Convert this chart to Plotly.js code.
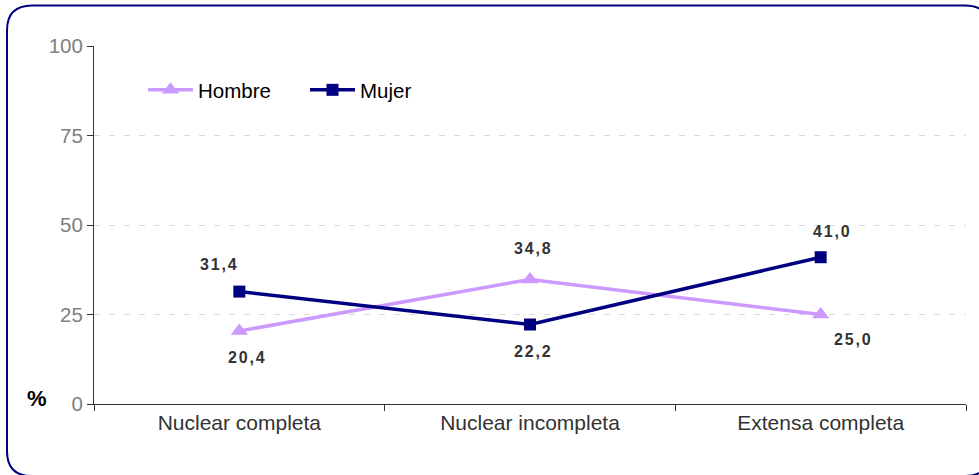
<!DOCTYPE html>
<html>
<head>
<meta charset="utf-8">
<script src="https://cdn.plot.ly/plotly-3.0.1.min.js"></script>
<style>
html, body { margin: 0; padding: 0; background: #fff; }
#chart { width: 979px; height: 475px; }
.annotation-text { letter-spacing: 1.8px; }
</style>
</head>
<body>
<div id="chart"></div>
<script>
var categories = ["Nuclear completa", "Nuclear incompleta", "Extensa completa"];
var hombre = [20.4, 34.8, 25.0];
var mujer = [31.4, 22.2, 41.0];
var yTicks = [0, 25, 50, 75, 100];

var W = 979, H = 475, L = 94, R = 13, T = 46, B = 71;
var pw = W - L - R, ph = H - T - B;
function px(x) { return (x - L) / pw; }
function py(y) { return (H - B - y) / ph; }

function fmt(v) { return v.toFixed(1).replace('.', ','); }

var traces = [
  {
    x: categories, y: hombre, name: "Hombre", type: "scatter", mode: "lines+markers",
    line: { color: "#CC99FF", width: 3.5 },
    marker: { symbol: "triangle-up", size: 15, color: "#CC99FF" }
  },
  {
    x: categories, y: mujer, name: "Mujer", type: "scatter", mode: "lines+markers",
    line: { color: "#000080", width: 3.5 },
    marker: { symbol: "square", size: 12, color: "#000080" }
  }
];

// label offsets (pixels) for each point
var hOff = [[8, 27], [3, -31], [32, 25]];
var mOff = [[-20, -27], [3, 27], [11, -26]];

var annotations = [];
function addLabels(vals, offs) {
  vals.forEach(function (v, i) {
    annotations.push({
      x: categories[i], y: v, xref: "x", yref: "y",
      text: fmt(v), showarrow: true, arrowcolor: "rgba(0,0,0,0)",
      ax: offs[i][0], ay: offs[i][1],
      font: { family: "Arial, Liberation Sans, sans-serif", size: 16, color: "#333333", weight: "bold" }
    });
  });
}
addLabels(hombre, hOff);
addLabels(mujer, mOff);

annotations.push({
  xref: "paper", yref: "paper", x: px(37), y: py(398), showarrow: false,
  text: "<b>%</b>", font: { family: "Arial, Liberation Sans, sans-serif", size: 22, color: "#000" },
  xanchor: "center", yanchor: "middle"
});

// rounded border
var bl = 7, bt = 5.5, br = 990, bb = 476, rr = 25;
var path = "M " + px(bl + rr) + " " + py(bt) +
  " L " + px(br - rr) + " " + py(bt) +
  " Q " + px(br) + " " + py(bt) + " " + px(br) + " " + py(bt + rr) +
  " L " + px(br) + " " + py(bb - rr) +
  " Q " + px(br) + " " + py(bb) + " " + px(br - rr) + " " + py(bb) +
  " L " + px(bl + rr) + " " + py(bb) +
  " Q " + px(bl) + " " + py(bb) + " " + px(bl) + " " + py(bb - rr) +
  " L " + px(bl) + " " + py(bt + rr) +
  " Q " + px(bl) + " " + py(bt) + " " + px(bl + rr) + " " + py(bt) + " Z";

var layout = {
  width: W, height: H,
  margin: { l: L, r: R, t: T, b: B, pad: 0 },
  paper_bgcolor: "#fff", plot_bgcolor: "#fff",
  font: { family: "Arial, Liberation Sans, sans-serif" },
  showlegend: true,
  legend: {
    orientation: "h", x: px(143), y: py(90), xanchor: "left", yanchor: "middle",
    font: { size: 20.5, color: "#000" }, bgcolor: "rgba(0,0,0,0)", itemwidth: 45,
    entrywidth: 102, entrywidthmode: "pixels", tracegroupgap: 0
  },
  xaxis: {
    type: "category", range: [-0.5, 2.5], tickson: "boundaries",
    ticks: "outside", ticklen: 6, tickcolor: "#333", tickwidth: 1,
    showline: true, linecolor: "#333", linewidth: 1,
    showgrid: false, zeroline: false,
    tickfont: { size: 21, color: "#333" }, fixedrange: true
  },
  yaxis: {
    range: [0, 100], tickvals: yTicks, ticktext: yTicks.map(String),
    ticks: "outside", ticklen: 6, tickcolor: "#333",
    showline: true, linecolor: "#333", linewidth: 1,
    showgrid: true, gridcolor: "#D9D9D9", griddash: "6px,9px", gridwidth: 1,
    zeroline: false,
    tickfont: { size: 20.5, color: "#808080" }, fixedrange: true
  },
  annotations: annotations,
  shapes: [{
    type: "path", xref: "paper", yref: "paper", path: path,
    line: { color: "#000080", width: 2 }, fillcolor: "rgba(0,0,0,0)", layer: "above"
  }]
};

Plotly.newPlot("chart", traces, layout, { displayModeBar: false, staticPlot: true });
</script>
</body>
</html>
